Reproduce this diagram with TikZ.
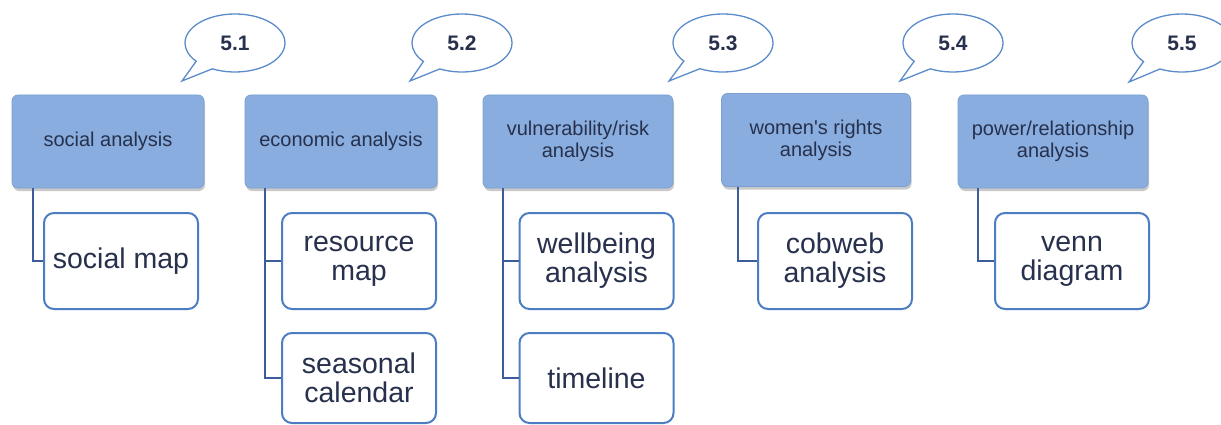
\documentclass[tikz,border=0pt]{standalone}
\usepackage{fontspec}
\setmainfont{Liberation Sans}
\usetikzlibrary{shapes.callouts,shadows}
\definecolor{topfill}{HTML}{88ADDE}
\definecolor{topedge}{HTML}{7A9FD3}
\definecolor{kidedge}{HTML}{4C7DC2}
\definecolor{linkcol}{HTML}{3B5E9A}
\definecolor{txtcol}{HTML}{27304C}
\definecolor{bubedge}{HTML}{5B8BCB}
\tikzset{
  topbox/.style={draw=topedge, fill=topfill, rounded corners=6pt, line width=0.8pt,
    minimum height=93pt, align=center, text=txtcol, inner sep=2pt,
    font=\fontsize{20}{22}\selectfont,
    drop shadow={shadow xshift=1pt, shadow yshift=-3pt, opacity=0.35, fill=black!60}},
  kidbox/.style={draw=kidedge, fill=white, rounded corners=10pt, line width=2pt,
    minimum width=154pt, minimum height=96pt, align=center, text=txtcol, inner sep=2pt,
    font=\fontsize{28.5}{29}\selectfont},
  link/.style={draw=linkcol, line width=2pt},
  bubble/.style={ellipse callout, draw=bubedge, fill=white, line width=1.3pt,
    callout pointer arc=24,
    minimum width=100pt, minimum height=58pt, text=txtcol, inner sep=0pt,
    font=\bfseries\fontsize{21}{22}\selectfont}
}
\begin{document}
\begin{tikzpicture}[x=1pt,y=-1pt]
\useasboundingbox (0,0) rectangle (1221,425);
\fill[white] (0,0) rectangle (1221,425);
% callouts
\node[bubble, callout absolute pointer={(182,81)}] (b1) at (235,43) {5.1};
\node[bubble, callout absolute pointer={(410,81)}] (b2) at (462,43) {5.2};
\node[bubble, callout absolute pointer={(669,81)}] (b3) at (723,43) {5.3};
\node[bubble, callout absolute pointer={(900,81)}] (b4) at (953,43) {5.4};
\node[bubble, callout absolute pointer={(1129,82)}] (b5) at (1182,43) {5.5};
% top boxes
\node[topbox, minimum width=192pt] (soc) at (108,141.5) {social analysis};
\node[topbox, minimum width=192pt] (eco) at (341,141.5) {economic analysis};
\node[topbox, minimum width=190pt] (vul) at (578,141.5) {vulnerability/risk\\analysis};
\node[topbox, minimum width=189pt] (wom) at (816,140) {women\textquotesingle s rights\\analysis};
\node[topbox, minimum width=190pt] (pow) at (1053,141.5) {power/relationship\\analysis};
% children
\node[kidbox] (smap) at (121,261) {social map};
\node[kidbox] (res) at (359,261) {resource\\map};
\node[kidbox, minimum height=90pt] (sea) at (359,378) {seasonal\\calendar};
\node[kidbox] (well) at (596.5,261) {wellbeing\\analysis};
\node[kidbox, minimum height=90pt] (time) at (596.5,378) {timeline};
\node[kidbox] (cob) at (835,261) {cobweb\\analysis};
\node[kidbox] (venn) at (1072,261) {venn\\diagram};
% connectors
\draw[link] ([xshift=21pt]soc.south west) |- (smap.west);
\draw[link] ([xshift=20pt]eco.south west) |- (res.west);
\draw[link] ([xshift=20pt]eco.south west) |- (sea.west);
\draw[link] ([xshift=20pt]vul.south west) |- (well.west);
\draw[link] ([xshift=20pt]vul.south west) |- (time.west);
\draw[link] ([xshift=17pt]wom.south west) |- (cob.west);
\draw[link] ([xshift=20pt]pow.south west) |- (venn.west);
\end{tikzpicture}
\end{document}
